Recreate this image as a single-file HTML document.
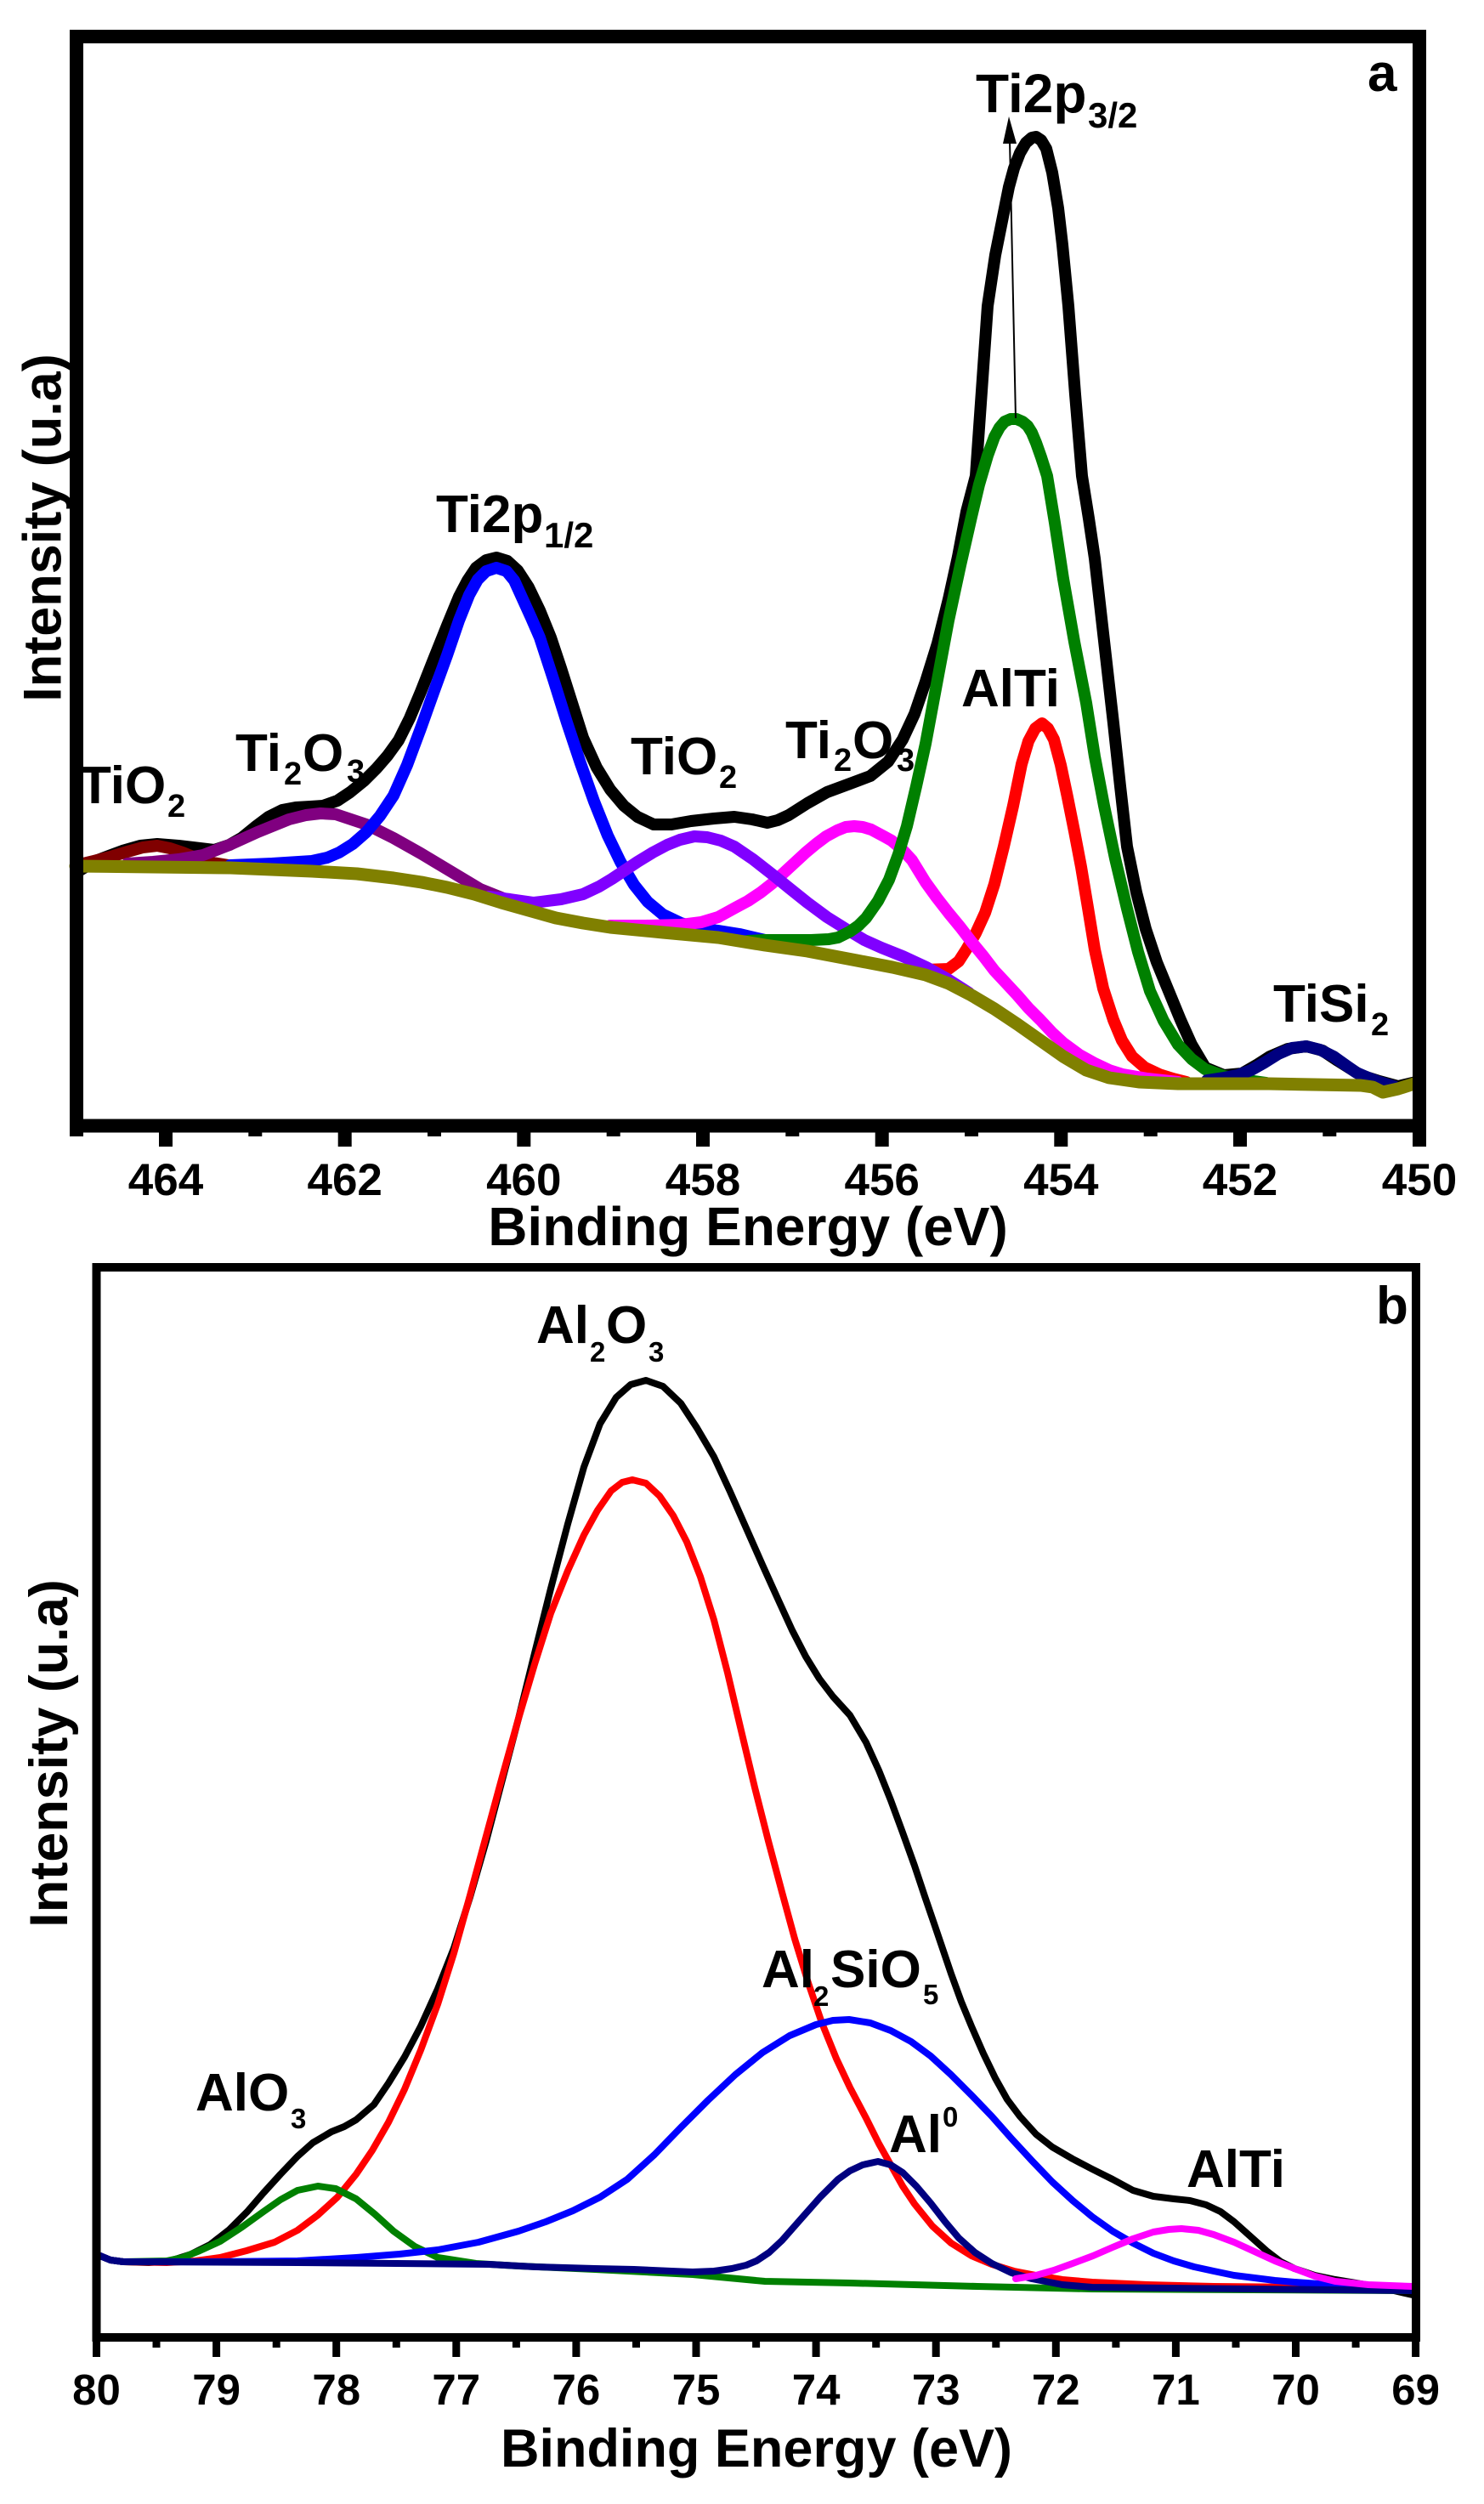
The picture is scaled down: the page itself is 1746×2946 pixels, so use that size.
<!DOCTYPE html>
<html>
<head>
<meta charset="utf-8">
<style>
html,body{margin:0;padding:0;background:#fff;}
svg{display:block;}
text{font-family:"Liberation Sans",Arial,sans-serif;font-weight:bold;fill:#000;}
</style>
</head>
<body>
<svg width="1746" height="2946" viewBox="0 0 1746 2946" xmlns="http://www.w3.org/2000/svg">
<rect x="0" y="0" width="1746" height="2946" fill="#fff"/>

<!-- ================= PANEL A ================= -->
<g fill="none" stroke-linejoin="round" stroke-linecap="round">
<polyline stroke="#000" stroke-width="14" points="89,1027 112,1013 144,1001 165,995 185,993 210,995 227,997 252,1000 270,994 284,986 300,973 316,961 332,953 348,950 365,949 380,948 397,942 412,932 428,919 443,904 456,889 469,871 482,845 495,814 510,776 526,736 540,702 550,683 560,668 572,659 584,656 597,660 609,671 622,691 635,718 648,750 660,786 673,827 686,868 702,903 718,929 734,948 750,961 769,970 790,970 813,966 840,963 864,961 885,964 903,968 915,965 928,959 950,945 973,932 1000,922 1024,913 1045,896 1062,870 1076,840 1089,802 1103,757 1116,705 1127,655 1137,602 1148,560 1155,460 1162,360 1171,300 1180,255 1187,220 1193,198 1200,180 1207,168 1214,162 1219,161 1225,165 1231,175 1238,203 1245,245 1250,288 1257,360 1265,464 1273,560 1281,610 1288,657 1299,754 1310,851 1318,925 1326,996 1337,1050 1348,1093 1361,1132 1375,1166 1389,1200 1402,1229 1418,1256 1440,1265 1461,1263 1480,1252 1494,1243 1515,1234 1537,1231 1556,1236 1574,1248 1601,1265 1623,1272 1645,1278 1670,1272"/>
<polyline stroke="#800000" stroke-width="14" points="89,1018 110,1013 130,1008 150,1002 168,997 185,995 200,998 215,1003 232,1010 250,1015 275,1019"/>
<polyline stroke="#800080" stroke-width="14" points="150,1016 180,1014 210,1011 239,1006 270,994 303,979 340,964 360,959 377,957 395,958 413,964 431,970 463,986 495,1004 530,1025 565,1046 600,1060 630,1070"/>
<polyline stroke="#0000FF" stroke-width="14" points="271,1018 320,1016 367,1013 385,1009 399,1003 415,993 431,979 447,960 463,936 479,900 495,857 510,815 526,771 540,730 552,700 562,682 572,672 584,668 596,672 605,683 615,705 625,727 635,750 651,799 667,850 683,898 699,943 715,983 730,1014 746,1041 762,1061 780,1076 801,1086 823,1092 845,1095 870,1099 900,1106"/>
<polyline stroke="#FF0000" stroke-width="14" points="1089,1141 1116,1140 1128,1131 1137,1117 1148,1098 1159,1074 1170,1040 1181,996 1192,948 1202,899 1210,872 1218,857 1226,851 1233,857 1240,870 1248,900 1256,938 1264,978 1272,1020 1280,1068 1288,1117 1298,1163 1310,1200 1320,1224 1332,1243 1347,1256 1364,1264 1380,1269 1396,1273"/>
<polyline stroke="#FF00FF" stroke-width="14" points="718,1089 760,1089 801,1088 825,1085 845,1079 865,1068 880,1060 895,1050 909,1039 922,1027 935,1015 948,1003 960,993 972,984 985,977 995,973 1005,972 1015,973 1025,976 1040,984 1049,989 1062,1000 1073,1012 1089,1038 1102,1056 1116,1074 1130,1091 1143,1108 1157,1125 1170,1142 1184,1157 1197,1171 1210,1186 1224,1200 1238,1215 1251,1227 1270,1241 1288,1251 1305,1259 1321,1264 1350,1269 1386,1273"/>
<polyline stroke="#8000FF" stroke-width="14" points="575,1055 600,1058 628,1062 660,1058 686,1052 705,1043 720,1034 735,1024 750,1014 768,1003 785,994 800,988 817,984 832,985 848,989 864,996 886,1011 909,1029 930,1046 950,1062 973,1079 997,1094 1017,1106 1037,1115 1062,1125 1090,1138 1115,1152 1140,1168"/>
<polyline stroke="#008000" stroke-width="14" points="880,1107 900,1106 930,1106 954,1106 975,1105 986,1103 1000,1096 1010,1089 1019,1080 1033,1060 1046,1035 1057,1005 1067,972 1078,925 1089,875 1102,805 1116,730 1130,665 1143,608 1152,570 1162,536 1170,514 1176,503 1182,496 1189,493 1196,493 1203,496 1209,501 1214,509 1219,521 1225,538 1232,560 1241,615 1251,681 1264,755 1278,827 1288,890 1299,948 1312,1010 1326,1069 1339,1120 1353,1166 1369,1201 1386,1229 1402,1246 1418,1258 1440,1266 1461,1270 1490,1274"/>
<polyline stroke="#000080" stroke-width="14" points="1420,1271 1440,1268 1456,1265 1472,1259 1488,1250 1504,1240 1520,1233 1537,1231 1553,1235 1569,1243 1583,1253 1596,1262 1610,1268 1623,1273 1640,1278"/>
<polyline stroke="#808000" stroke-width="15" points="89,1019 180,1020 271,1021 367,1025 420,1028 463,1033 496,1038 526,1044 558,1052 590,1062 622,1071 654,1080 686,1086 718,1091 780,1097 845,1103 900,1112 950,1119 1008,1130 1050,1138 1089,1147 1116,1157 1143,1171 1170,1187 1197,1205 1224,1224 1251,1243 1278,1259 1305,1268 1340,1273 1386,1275 1493,1275 1601,1277 1615,1279 1627,1285 1645,1281 1670,1273"/>
</g>

<line x1="1195" y1="492" x2="1188" y2="165" stroke="#000" stroke-width="2"/>
<polygon points="1187,137 1180,169 1196,169" fill="#000"/>

<rect x="90" y="43" width="1580" height="1281.5" fill="none" stroke="#000" stroke-width="16"/>
<g stroke="#000" stroke-width="16">
<line x1="195" y1="1324" x2="195" y2="1349"/>
<line x1="405.7" y1="1324" x2="405.7" y2="1349"/>
<line x1="616.3" y1="1324" x2="616.3" y2="1349"/>
<line x1="827" y1="1324" x2="827" y2="1349"/>
<line x1="1037.7" y1="1324" x2="1037.7" y2="1349"/>
<line x1="1248.3" y1="1324" x2="1248.3" y2="1349"/>
<line x1="1459" y1="1324" x2="1459" y2="1349"/>
<line x1="1670" y1="1324" x2="1670" y2="1349"/>
<line x1="90" y1="1324" x2="90" y2="1337"/>
<line x1="300.3" y1="1324" x2="300.3" y2="1337"/>
<line x1="511" y1="1324" x2="511" y2="1337"/>
<line x1="721.7" y1="1324" x2="721.7" y2="1337"/>
<line x1="932.3" y1="1324" x2="932.3" y2="1337"/>
<line x1="1143" y1="1324" x2="1143" y2="1337"/>
<line x1="1353.7" y1="1324" x2="1353.7" y2="1337"/>
<line x1="1564.3" y1="1324" x2="1564.3" y2="1337"/>
</g>
<g font-size="53" text-anchor="middle">
<text x="195" y="1406">464</text>
<text x="405.7" y="1406">462</text>
<text x="616.3" y="1406">460</text>
<text x="827" y="1406">458</text>
<text x="1037.7" y="1406">456</text>
<text x="1248.3" y="1406">454</text>
<text x="1459" y="1406">452</text>
<text x="1670" y="1406">450</text>
</g>
<text x="880" y="1465" font-size="64" text-anchor="middle">Binding Energy (eV)</text>
<text transform="translate(71.5,621) rotate(-90)" font-size="63" text-anchor="middle">Intensity (u.a)</text>

<g font-size="62">
<text x="93" y="945">TiO</text>
<text x="277" y="907">Ti</text>
<text x="356" y="907">O</text>
<text x="513" y="626">Ti2p</text>
<text x="742" y="911">TiO</text>
<text x="924" y="892">Ti</text>
<text x="1003" y="892">O</text>
<text x="1131" y="831">AlTi</text>
<text x="1498" y="1202">TiSi</text>
<text x="1609" y="107">a</text>
</g>
<text x="1148" y="132" font-size="64">Ti2p</text>
<g font-size="38">
<text x="197" y="961">2</text>
<text x="334" y="923">2</text>
<text x="408" y="920">3</text>
<text x="846" y="927">2</text>
<text x="981" y="907">2</text>
<text x="1055" y="907">3</text>
<text x="1613" y="1218">2</text>
</g>
<g font-size="42">
<text x="640" y="644">1/2</text>
<text x="1280" y="150">3/2</text>
</g>

<!-- ================= PANEL B ================= -->
<g fill="none" stroke-linejoin="round" stroke-linecap="round" stroke-width="8">
<polyline stroke="#000" points="113,2652 130,2659 145,2661 175,2662 200,2660 225,2652 247,2641 270,2623 291,2602 310,2580 330,2558 350,2537 368,2521 390,2508 405,2502 419,2494 440,2476 457,2451 476,2420 495,2384 515,2340 534,2292 553,2232 572,2166 591,2094 610,2022 629,1945 648,1869 668,1793 687,1726 706,1675 725,1644 742,1629 760,1624 780,1631 801,1651 820,1680 840,1714 859,1755 878,1798 897,1841 916,1883 932,1918 948,1949 964,1975 980,1996 1000,2018 1019,2050 1034,2083 1048,2118 1062,2156 1076,2195 1088,2231 1100,2266 1119,2322 1131,2355 1143,2384 1157,2416 1171,2445 1185,2470 1200,2490 1219,2511 1238,2526 1262,2540 1285,2552 1309,2564 1333,2577 1357,2584 1381,2587 1400,2589 1419,2594 1436,2602 1452,2614 1471,2631 1490,2648 1507,2661 1523,2669 1547,2677 1571,2682 1595,2686 1618,2690 1640,2695 1662,2700"/>
<polyline stroke="#FF0000" points="113,2652 130,2659 145,2661 196,2662 230,2660 259,2656 290,2648 323,2638 350,2624 374,2606 397,2585 419,2558 438,2530 457,2497 476,2458 495,2412 515,2358 534,2298 553,2230 572,2160 591,2090 610,2022 629,1958 648,1898 668,1848 687,1806 703,1777 719,1754 732,1744 744,1741 760,1745 776,1760 792,1783 808,1814 824,1855 840,1906 856,1968 872,2036 888,2103 904,2166 920,2226 935,2281 951,2333 967,2380 984,2422 1000,2456 1019,2492 1034,2522 1048,2547 1062,2572 1076,2593 1097,2619 1119,2639 1143,2654 1167,2664 1193,2672 1219,2677 1250,2682 1285,2685 1350,2688 1428,2690 1662,2692"/>
<polyline stroke="#008000" points="113,2652 130,2659 145,2661 196,2660 215,2656 235,2648 259,2637 285,2620 310,2602 330,2588 350,2577 374,2572 395,2575 419,2587 441,2605 463,2625 488,2643 515,2656 560,2663 610,2666 700,2670 815,2676 900,2684 1000,2686 1150,2690 1285,2693 1662,2695"/>
<polyline stroke="#0000FF" points="113,2652 130,2659 145,2661 250,2661 350,2660 419,2656 470,2652 515,2647 563,2638 610,2625 642,2614 674,2601 706,2585 738,2564 770,2535 801,2503 833,2471 865,2441 897,2415 929,2395 960,2382 980,2377 999,2376 1024,2380 1048,2389 1072,2402 1095,2419 1119,2441 1143,2465 1167,2490 1190,2516 1214,2542 1238,2567 1262,2589 1285,2608 1309,2625 1333,2639 1357,2651 1381,2660 1405,2667 1428,2672 1452,2677 1476,2680 1500,2683 1523,2685 1580,2689 1662,2692"/>
<polyline stroke="#000080" points="113,2652 130,2659 145,2661 350,2662 575,2664 630,2667 700,2669 746,2670 790,2672 815,2673 840,2672 861,2669 878,2665 890,2660 905,2650 920,2636 942,2611 965,2585 986,2564 1000,2554 1015,2547 1033,2543 1048,2547 1062,2556 1078,2572 1095,2592 1112,2614 1128,2633 1147,2650 1167,2663 1190,2674 1214,2681 1250,2688 1285,2691 1662,2695"/>
<polyline stroke="#FF00FF" points="1195,2681 1219,2677 1240,2671 1262,2663 1286,2654 1309,2644 1333,2634 1357,2626 1375,2623 1390,2622 1410,2624 1428,2629 1452,2638 1476,2649 1500,2660 1523,2669 1547,2678 1571,2684 1610,2688 1662,2690"/>
</g>

<rect x="113.5" y="1491" width="1552.5" height="1259" fill="none" stroke="#000" stroke-width="10"/>
<g stroke="#000" stroke-width="9">
<line x1="113.5" y1="2750" x2="113.5" y2="2773"/>
<line x1="254.6" y1="2750" x2="254.6" y2="2773"/>
<line x1="395.7" y1="2750" x2="395.7" y2="2773"/>
<line x1="536.8" y1="2750" x2="536.8" y2="2773"/>
<line x1="677.9" y1="2750" x2="677.9" y2="2773"/>
<line x1="819" y1="2750" x2="819" y2="2773"/>
<line x1="960.1" y1="2750" x2="960.1" y2="2773"/>
<line x1="1101.2" y1="2750" x2="1101.2" y2="2773"/>
<line x1="1242.3" y1="2750" x2="1242.3" y2="2773"/>
<line x1="1383.4" y1="2750" x2="1383.4" y2="2773"/>
<line x1="1524.5" y1="2750" x2="1524.5" y2="2773"/>
<line x1="1665.6" y1="2750" x2="1665.6" y2="2773"/>
<line x1="184" y1="2750" x2="184" y2="2762"/>
<line x1="325.2" y1="2750" x2="325.2" y2="2762"/>
<line x1="466.3" y1="2750" x2="466.3" y2="2762"/>
<line x1="607.4" y1="2750" x2="607.4" y2="2762"/>
<line x1="748.5" y1="2750" x2="748.5" y2="2762"/>
<line x1="889.6" y1="2750" x2="889.6" y2="2762"/>
<line x1="1030.7" y1="2750" x2="1030.7" y2="2762"/>
<line x1="1171.8" y1="2750" x2="1171.8" y2="2762"/>
<line x1="1312.9" y1="2750" x2="1312.9" y2="2762"/>
<line x1="1454" y1="2750" x2="1454" y2="2762"/>
<line x1="1595.1" y1="2750" x2="1595.1" y2="2762"/>
</g>
<g font-size="51" text-anchor="middle">
<text x="113.5" y="2829">80</text>
<text x="254.6" y="2829">79</text>
<text x="395.7" y="2829">78</text>
<text x="536.8" y="2829">77</text>
<text x="677.9" y="2829">76</text>
<text x="819" y="2829">75</text>
<text x="960.1" y="2829">74</text>
<text x="1101.2" y="2829">73</text>
<text x="1242.3" y="2829">72</text>
<text x="1383.4" y="2829">71</text>
<text x="1524.5" y="2829">70</text>
<text x="1665.6" y="2829">69</text>
</g>
<text x="890" y="2902" font-size="63" text-anchor="middle">Binding Energy (eV)</text>
<text transform="translate(79,2063) rotate(-90)" font-size="63" text-anchor="middle">Intensity (u.a)</text>

<g font-size="62">
<text x="631" y="1580">Al</text>
<text x="713" y="1580">O</text>
<text x="230" y="2483">AlO</text>
<text x="896" y="2338">Al</text>
<text x="977" y="2338">SiO</text>
<text x="1046" y="2532">Al</text>
<text x="1396" y="2573">AlTi</text>
<text x="1619" y="1557">b</text>
</g>
<g font-size="33">
<text x="694" y="1602">2</text>
<text x="763" y="1602">3</text>
<text x="342" y="2504">3</text>
<text x="957" y="2360">2</text>
<text x="1086" y="2358">5</text>
<text x="1109" y="2502">0</text>
</g>
</svg>
</body>
</html>
